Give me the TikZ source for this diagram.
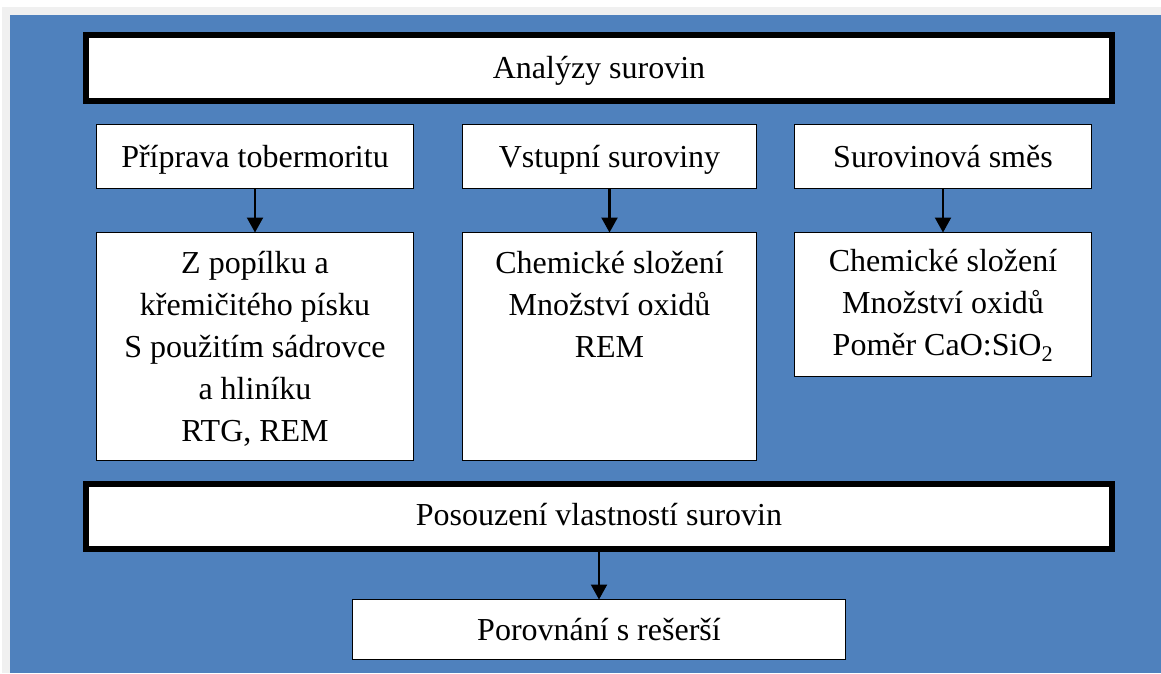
\documentclass[tikz,border=0pt]{standalone}
\usepackage{fontspec}
\setmainfont{Liberation Serif}
\usetikzlibrary{arrows.meta}
\definecolor{panelblue}{RGB}{79,129,189}
\definecolor{framegray}{RGB}{240,240,240}

\begin{document}
\begin{tikzpicture}[x=1pt,y=-1pt,
  heavybox/.style={draw=black,line width=6pt,fill=white,inner sep=0pt,outer sep=0pt,
    font=\fontsize{32}{42}\selectfont},
  lightbox/.style={draw=black,line width=1.5pt,fill=white,inner sep=0pt,outer sep=0pt,
    font=\fontsize{32}{42}\selectfont},
  oneline/.style={text height=24pt,text depth=3pt},
  % multi-line text: the base anchor sits on the last line
  boxtext/.style={inner sep=0pt,outer sep=0pt,anchor=base,align=center,
    font=\fontsize{32}{42}\selectfont},
  flow/.style={line width=2.2pt,-{Triangle[width=16pt,length=15pt]}},
]
% page, frame and blue panel
\fill[white] (0,0) rectangle (1161,673);
\fill[framegray] (2,7) rectangle (1161,673);
\fill[panelblue] (10,15) rectangle (1161,673);
\useasboundingbox (0,0) rectangle (1161,673);

% heading
\node[heavybox,oneline,minimum width=1026pt,minimum height=66pt] (analyzy) at (599,68) {Analýzy surovin};

% upper row
\node[lightbox,oneline,minimum width=317pt,minimum height=64pt] (priprava) at (255,156.5) {Příprava tobermoritu};
\node[lightbox,oneline,minimum width=294pt,minimum height=64pt] (vstupni) at (609.5,156.5) {Vstupní suroviny};
\node[lightbox,oneline,minimum width=297pt,minimum height=64pt] (smes) at (943,156.5) {Surovinová směs};

% detail boxes
\node[lightbox,minimum width=317pt,minimum height=228pt] (popilek) at (255,346.5) {};
\node[lightbox,minimum width=294pt,minimum height=228pt] (slozeni) at (609.5,346.5) {};
\node[lightbox,minimum width=297pt,minimum height=144pt] (pomer) at (943,304.5) {};

\node[boxtext] (popilekT) at (255,441) {Z popílku a\\křemičitého písku\\S použitím sádrovce\\a hliníku\\RTG, REM};
\node[boxtext] (slozeniT) at (609.5,357) {Chemické složení\\Množství oxidů\\REM};
\node[boxtext] (pomerT) at (943,355) {Chemické složení\\Množství oxidů\\Poměr CaO:SiO\textsubscript{2}};

% assessment and comparison
\node[heavybox,text height=20pt,text depth=3pt,minimum width=1026pt,minimum height=65pt] (posouzeni) at (599,516.5) {Posouzení vlastností surovin};
\node[lightbox,oneline,minimum width=493pt,minimum height=60pt] (porovnani) at (599,629.5) {Porovnání s rešerší};

% connectors
\draw[flow] (priprava) -- (popilek);
\draw[flow] (vstupni) -- (slozeni);
\draw[flow] (smes) -- (pomer);
\draw[flow] (posouzeni) -- (porovnani);
\end{tikzpicture}
\end{document}
